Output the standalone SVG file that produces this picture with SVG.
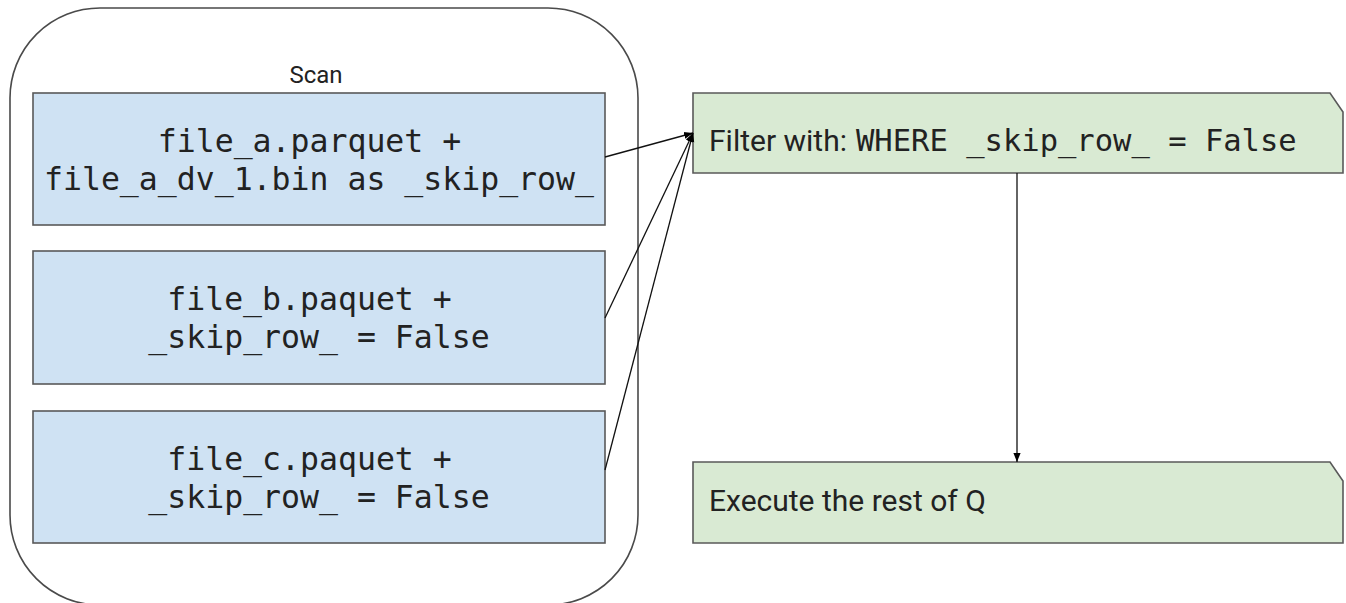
<svg xmlns="http://www.w3.org/2000/svg" width="1346" height="603" viewBox="0 0 1346 603">
  <defs>
    <marker id="arrow" viewBox="0 0 10 10" refX="10" refY="5" markerWidth="9" markerHeight="9" markerUnits="userSpaceOnUse" orient="auto">
      <path d="M0,1 L10,5 L0,9 Z" fill="#000"/>
    </marker>
    <style>
      .frame { fill: #ffffff; stroke: #4a4a4a; stroke-width: 1.6; }
      .file { fill: #cfe2f3; stroke: #595959; stroke-width: 1.6; }
      .step { fill: #d9ead3; stroke: #595959; stroke-width: 1.6; }
      .sans { font-family: Roboto, "Liberation Sans", Arial, sans-serif; fill: #222; }
      .mono { font-family: "DejaVu Sans Mono", "Liberation Mono", monospace; fill: #222; font-size: 31.5px; }
      .mono-s { font-family: "DejaVu Sans Mono", "Liberation Mono", monospace; fill: #222; font-size: 30.5px; }
      .edge { stroke: #111; stroke-width: 1.3; fill: none; marker-end: url(#arrow); }
    </style>
  </defs>
  <rect width="1346" height="603" fill="#ffffff"/>

  <!-- scan stage container -->
  <g id="scan">
    <rect class="frame" x="10" y="8" width="628" height="597" rx="90" ry="90"/>
    <text class="sans" x="316" y="83" font-size="24" text-anchor="middle">Scan</text>
  </g>

  <g id="file_a">
    <rect class="file" x="33" y="93" width="572" height="132"/>
    <text class="mono" text-anchor="middle">
      <tspan x="319" y="152">file_a.parquet +</tspan>
      <tspan x="319" y="190">file_a_dv_1.bin as _skip_row_</tspan>
    </text>
  </g>

  <g id="file_b">
    <rect class="file" x="33" y="251" width="572" height="133"/>
    <text class="mono" text-anchor="middle">
      <tspan x="319" y="310">file_b.paquet +</tspan>
      <tspan x="319" y="348">_skip_row_ = False</tspan>
    </text>
  </g>

  <g id="file_c">
    <rect class="file" x="33" y="411" width="572" height="132"/>
    <text class="mono" text-anchor="middle">
      <tspan x="319" y="470">file_c.paquet +</tspan>
      <tspan x="319" y="508">_skip_row_ = False</tspan>
    </text>
  </g>

  <g id="filter">
    <path class="step" d="M693,93 H1330 L1343,112 V173 H693 Z"/>
    <text class="sans" x="709" y="151" font-size="30">Filter with:</text>
    <text class="mono-s" x="856" y="151">WHERE _skip_row_ = False</text>
  </g>

  <g id="rest">
    <path class="step" d="M693,462 H1330 L1343,481 V543 H693 Z"/>
    <text class="sans" x="709" y="511" font-size="30">Execute the rest of Q</text>
  </g>

  <!-- connectors -->
  <g id="connectors">
    <line class="edge" x1="605" y1="157" x2="693" y2="133"/>
    <line class="edge" x1="605" y1="318" x2="693" y2="133"/>
    <line class="edge" x1="605" y1="470" x2="693" y2="133"/>
    <line class="edge" x1="1017" y1="173" x2="1017" y2="462"/>
  </g>
</svg>
